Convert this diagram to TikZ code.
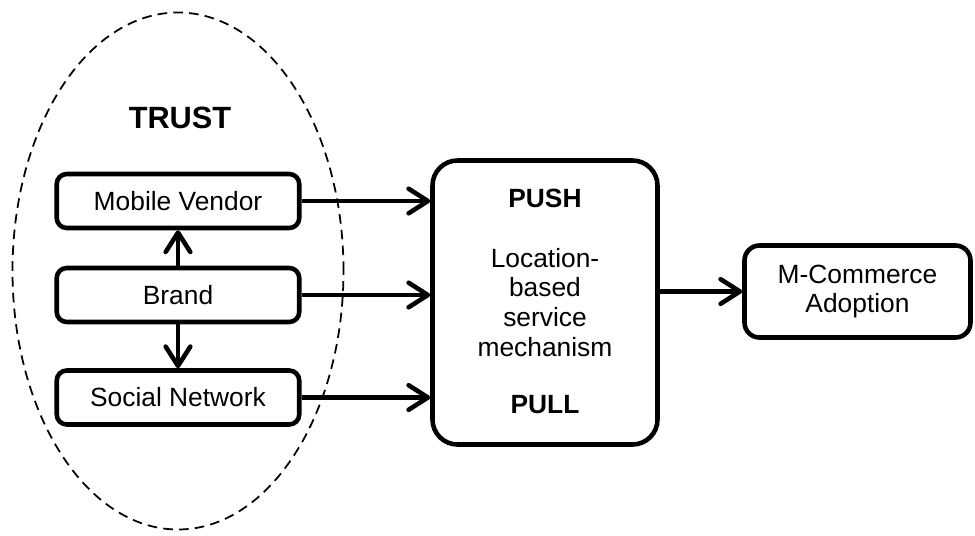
\documentclass[tikz,border=0pt]{standalone}
\usepackage{fontspec}
\setmainfont{Liberation Sans}
\usepackage{tikz}
\usetikzlibrary{arrows.meta,positioning}

\begin{document}
\begin{tikzpicture}[->,>={Straight Barb[length=11pt,width=14pt,line cap=round,line join=round]},
    line width=2.6pt,
    font=\fontsize{15pt}{17pt}\selectfont,
    factor/.style={draw,rounded corners=0.2cm,minimum width=4.85cm,minimum height=1.08cm,inner sep=0pt},
    mech/.style={draw,rounded corners=0.5cm,minimum width=4.5cm,minimum height=5.68cm,align=center},
    goal/.style={draw,rounded corners=0.3cm,minimum width=4.52cm,minimum height=1.84cm,align=center},
    heading/.style={font=\fontsize{15pt}{17pt}\selectfont\bfseries}]

    \useasboundingbox (0,0) rectangle (19.5,-10.7);

    % Trust group
    \draw[-,line width=1pt,dash pattern=on 5.5pt off 3.5pt] (3.56,-5.42) ellipse (3.31 and 5.17);
	\node at (3.6,-2.36) (trust) {\fontsize{17.5pt}{20pt}\selectfont\bfseries TRUST};

	\node [factor] at (3.56,-4.02) (vendor) {Mobile Vendor};
	\node [factor] at (3.56,-5.9) (brand) {Brand};
	\node [factor] at (3.56,-7.95) (social) {Social Network};

	% Mechanism and outcome
	\node [mech] at (10.9,-6.05) (lbs) {Location-\\based\\service\\mechanism};
	\node [heading] at (10.9,-3.96) (push) {PUSH};
	\node [heading] at (10.9,-8.1) (pull) {PULL};

	\node [goal] at (17.15,-5.83) (adopt) {M-Commerce\\Adoption};

	% Edges
	\path[->]
	(brand) edge (vendor)
	(brand) edge (social)
	(vendor.east) edge (vendor.east -| lbs.west)
	(brand.east) edge (brand.east -| lbs.west)
	(social.east) edge (social.east -| lbs.west)
	(lbs.east |- adopt.west) edge (adopt.west);

\end{tikzpicture}
\end{document}
